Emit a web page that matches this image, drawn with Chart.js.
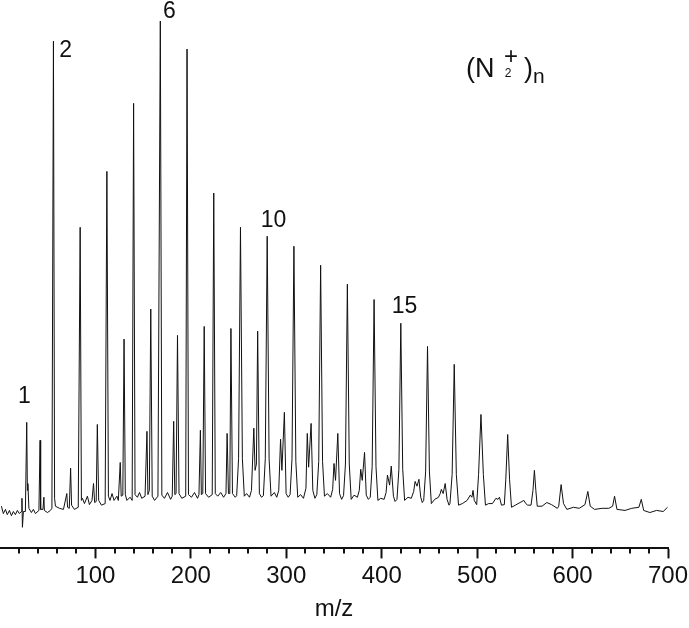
<!DOCTYPE html>
<html>
<head>
<meta charset="utf-8">
<script src="https://cdn.jsdelivr.net/npm/chart.js@4.4.1/dist/chart.umd.min.js"></script>
<style>
  html, body { margin: 0; padding: 0; background: #fff; }
  canvas { display: block; }
</style>
</head>
<body>
<canvas id="spectrum" width="689" height="628"></canvas>
<script>
// mass spectrum of (N2+)n clusters: [m/z, relative intensity]
// main peaks at n*28, (N2)nN+ at n*28+14, (N2)n.H2O+ at n*28+18

var traceLow = [
    [1.5, 8.0], [3.5, 6.6], [5.7, 7.4], [7.6, 6.4], [9.9, 7.2], [12.0, 6.2], [14.0, 7.0], [16.1, 6.4], [18.2, 7.2], [20.3, 6.6],
    [22.4, 7.0], [23.0, 9.5], [23.5, 4.0], [24.5, 7.0], [26.6, 7.0],
    [28, 23.9], [28.7, 11.0], [29.2, 12.3], [30.3, 7.6], [32.9, 6.8], [35.0, 7.4], [37.1, 6.6], [40.8, 7.2], [42, 20.5], [42.6, 7.4], [45.0, 7.4],
    [46, 9.7], [46.5, 7.2], [49.7, 6.8], [52.8, 7.2], [54.4, 7.6], [56, 96.2], [57.2, 9.5], [58.1, 8.0], [62.3, 7.6], [66.5, 7.4],
    [70, 10.4], [70.8, 7.8], [72.6, 7.6], [74, 15.2], [75, 8.2], [78.0, 7.4], [82.0, 7.8], [84, 60.9], [85.3, 9.1], [86.4, 9.5],
    [88.5, 8.5], [91.6, 9.9], [93.7, 8.3], [96.4, 9.1], [98, 12.3], [99.2, 8.7], [100.8, 8.9], [102, 23.5], [103.4, 9.1], [106.3, 8.2],
    [110.2, 8.5], [112, 71.5], [113.6, 9.9], [115.3, 9.1], [117.4, 10.4], [119.5, 9.1], [122.5, 9.9], [124.0, 9.1], [126, 16.3], [127.0, 9.9],
    [128.7, 10.1], [130, 39.7], [131.3, 10.2], [133.0, 9.1], [136.3, 9.7], [138.5, 9.1], [140, 84.4], [141.5, 10.2], [144.0, 9.7], [146.2, 10.6],
    [148.5, 9.5], [152.0, 9.9], [154, 22.2], [155.0, 10.2], [156.5, 11.0], [158, 45.4], [159.5, 9.9], [162.0, 9.1], [165.5, 9.9], [168, 100],
    [169.6, 10.1], [172.3, 9.5], [175.5, 10.6], [178.8, 9.3], [180.5, 9.9], [182, 24.1], [183.2, 10.2], [184.5, 10.4], [186, 40.4], [187.6, 10.4],
    [190.5, 9.5], [194.6, 9.9], [196, 94.7], [197.5, 10.2]
];

var traceMid = [
    [200.7, 9.7], [203.8, 10.6], [207.0, 9.5], [208.5, 10.2], [210, 22.4], [211.0, 10.2], [212.5, 10.4], [214, 42.1], [215.4, 10.4], [218.6, 9.7],
    [222.4, 10.2], [224, 67.4], [225.6, 10.4], [228.2, 9.9], [231.3, 10.6], [234.3, 9.7], [236.8, 10.4], [238, 21.8], [239.4, 10.4], [240.8, 10.4],
    [242, 41.7], [243.6, 10.4], [246.5, 9.7],
    [248, 10.0], [250, 17], [252, 60.9], [254, 17], [256, 9.9], [258.4, 10.4], [261.5, 9.7], [263.5, 11.0], [266, 22.8], [267.3, 14.8], [268.7, 16], [270, 41.2], [271.8, 10.4], [274, 9.7],
    [276, 10.0], [278, 17], [280, 59.2], [282, 17], [284, 9.9], [287.5, 10.6], [290, 9.7], [292.1, 11.0], [294, 20.7], [295.4, 14.8], [298, 25.8], [299.8, 10.4], [302, 9.7],
    [304, 10.2], [306, 17], [308, 57.3], [310, 16.5], [312, 9.7], [315, 10.2], [318, 9.5], [320.6, 11.4], [322, 21.8], [323.4, 15.4], [326, 23.7], [327.8, 11.0], [330, 9.5],
    [332, 10.2], [334, 16.5], [336, 53.7], [338, 16.5], [340, 9.9], [343, 10.4], [346.5, 9.7], [348.6, 11.2], [350, 16.1], [351.6, 12.9], [354, 21.8], [355.8, 10.4], [358, 9.3],
    [360, 10.0], [362, 16], [364, 50.1], [366, 16], [368, 9.3], [371, 10.1], [374.5, 9.7], [376.5, 11], [378, 15.0], [379.6, 12.9], [382, 18.2], [383.8, 10.1], [386, 9.3],
    [388, 9.7], [390, 15.5], [392, 47.2], [394, 15.5], [396, 9.1], [399, 9.5], [402.5, 9.3], [404.6, 10.6], [406, 13.9], [408.3, 12.0], [410, 15.6], [412.3, 9.9], [414, 8.9],
    [416, 9.3], [418, 15], [420, 42.7], [422, 15], [424, 9.1], [427.5, 9.7], [431, 9.5], [433.5, 10.8], [435, 12.7], [437, 11.8], [439, 13.1], [440.9, 9.7], [442.5, 8.7],
    [444, 9.1], [446, 14.5], [448, 38.3], [450, 14.5], [452, 8.5], [455.5, 9.3], [459.5, 9.7], [461.3, 10.4], [462.5, 11.2], [464.4, 10.4], [466.5, 12.3], [468.5, 9.3], [470.5, 8.2]
];

var traceHigh = [
    [471.5, 8.5], [473.8, 14], [476, 34.9], [478.2, 14], [480.5, 8.2], [484.5, 8.5], [489.5, 9.1], [492.8, 10.1], [494.5, 9.7], [495.7, 11.0], [497, 9.1],
    [499.5, 8.3], [501.5, 14], [504, 25.4], [506.5, 14], [508.7, 8.2], [512, 8.5], [516, 8.5], [519.7, 9.5], [521.8, 9.3], [523.4, 9.7], [525.5, 8.2],
    [528.5, 8.3], [530, 13], [532, 21.6], [534, 13], [536, 7.8], [540, 8.2], [545, 8.7], [549, 9.1], [551, 8.5], [553, 8.2],
    [556.5, 8.2], [558.5, 11], [560, 14.8], [561.5, 11], [563, 8.0], [568, 8.0], [573, 8.7], [578, 8.3], [584, 7.6],
    [585.5, 8.0], [588, 12.1], [590.5, 8.5], [594, 7.4], [601, 7.8], [607, 7.6], [613, 8.3],
    [616, 10.8], [618.5, 8.0], [623, 7.4], [631, 7.6], [638, 7.6], [642, 8.0],
    [644, 9.9], [646.5, 7.4], [655, 7.2], [662, 7.6], [669.5, 7.8],
    [672, 9.3], [674.5, 7.2], [681, 6.8], [688, 7.2], [695, 7.0], [699.5, 7.8]
];

// cluster size labels: text, m/z, intensity of text baseline
var peakLabels = ['1', '2', '6', '10', '15'];
var peakLabelMz = [25.6, 68.9, 177.6, 286.6, 423.9];
var peakLabelLevel = [27.6, 93.1, 100.5, 60.9, 44.6];

var majorTicks = [100, 200, 300, 400, 500, 600, 700];
var minorTicks = [20, 40, 60, 80, 120, 140, 160, 180, 220, 240, 260, 280, 320, 340, 360, 380,
                  420, 440, 460, 480, 520, 540, 560, 580, 620, 640, 660, 680];

var FONT = "'Liberation Sans', Arial, Helvetica, sans-serif";
var INK = '#111';

var points = traceLow.concat(traceMid, traceHigh).map(function(p) {
    return { x: p[0], y: p[1] };
});

// short ticks between the labelled ones
var minorTickPlugin = {
    id: 'minorTicks',
    afterDraw: function(chart) {
        var xs = chart.scales.x;
        var c = chart.ctx;
        var y0 = chart.chartArea.bottom;
        c.save();
        c.strokeStyle = INK;
        c.lineWidth = 2;
        minorTicks.forEach(function(v) {
            var px = Math.round(xs.getPixelForValue(v));
            c.beginPath();
            c.moveTo(px, y0);
            c.lineTo(px, y0 + 5);
            c.stroke();
        });
        c.restore();
    }
};

// n labels over the peaks and the (N2+)n caption
var textPlugin = {
    id: 'peakText',
    afterDatasetsDraw: function(chart) {
        var xs = chart.scales.x, ys = chart.scales.y;
        var c = chart.ctx;
        c.save();
        c.fillStyle = INK;
        c.textAlign = 'center';
        c.textBaseline = 'alphabetic';
        c.font = '23px ' + FONT;
        peakLabels.forEach(function(t, i) {
            c.fillText(t, xs.getPixelForValue(peakLabelMz[i]), ys.getPixelForValue(peakLabelLevel[i]));
        });

        // (N2+)n
        var a = chart.chartArea;
        var bx = a.left + 466, by = a.top + 77;
        c.textAlign = 'left';
        c.font = '27px ' + FONT;
        c.fillText('(N', bx, by);
        c.fillText(')', bx + 58, by);
        c.textAlign = 'center';
        c.font = '24px ' + FONT;
        c.fillText('+', bx + 45, by - 13);
        c.font = '12px ' + FONT;
        c.fillText('2', bx + 42, by);
        c.textAlign = 'left';
        c.font = '21px ' + FONT;
        c.fillText('n', bx + 67, by + 6);
        c.restore();
    }
};

var ctx = document.getElementById('spectrum').getContext('2d');
window.myChart = new Chart(ctx, {
    type: 'line',
    data: {
        datasets: [{
            label: '(N2+)n',
            data: points,
            borderColor: INK,
            borderWidth: 1,
            pointRadius: 0,
            tension: 0,
            fill: false
        }]
    },
    options: {
        responsive: false,
        animation: false,
        events: [],
        layout: {
            padding: { left: 0, right: 21, top: 0, bottom: 0 }
        },
        plugins: {
            legend: { display: false },
            tooltip: { enabled: false }
        },
        scales: {
            x: {
                type: 'linear',
                min: 0,
                max: 700,
                afterBuildTicks: function(scale) {
                    scale.ticks = [{ value: 0 }].concat(majorTicks.map(function(v) { return { value: v }; }));
                },
                afterFit: function(scale) {
                    scale.paddingLeft = 0;
                    scale.paddingRight = 21;
                },
                grid: {
                    drawOnChartArea: false,
                    tickLength: 10,
                    tickWidth: 2,
                    tickColor: function(c) { return c.tick && c.tick.value === 0 ? 'rgba(0,0,0,0)' : INK; }
                },
                border: { color: INK, width: 2 },
                ticks: {
                    autoSkip: false,
                    maxRotation: 0,
                    padding: 4,
                    color: INK,
                    font: { family: FONT, size: 24 },
                    callback: function(v) { return v === 0 ? '' : v; }
                },
                title: {
                    display: true,
                    text: 'm/z',
                    color: INK,
                    font: { family: FONT, size: 24 },
                    padding: { top: 0, bottom: 4 }
                }
            },
            y: {
                display: false,
                min: 0,
                max: 104
            }
        }
    },
    plugins: [minorTickPlugin, textPlugin]
});
</script>
</body>
</html>
